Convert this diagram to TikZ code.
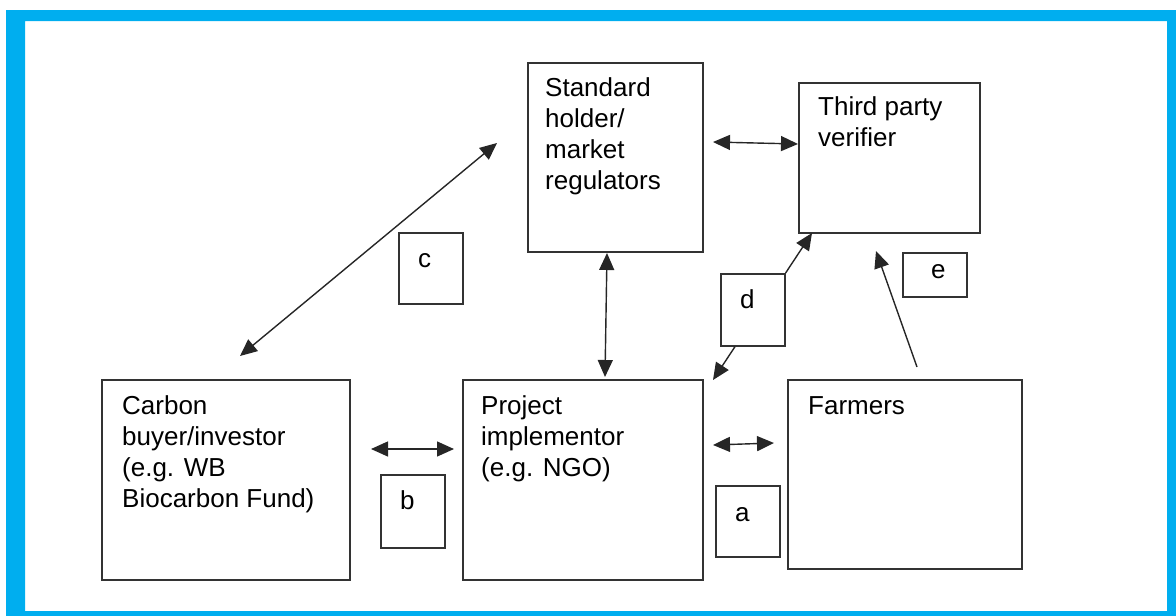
\documentclass[tikz,border=0pt]{standalone}
\usepackage{fontspec}
\setmainfont{Liberation Sans}
\usetikzlibrary{arrows.meta}

\definecolor{framecyan}{RGB}{0,174,239}

\begin{document}
\begin{tikzpicture}[x=1pt, y=-1pt,
    box/.style={draw=black!80, line width=1.6pt, inner sep=0pt, anchor=north west},
    lbl/.style={align=left, inner sep=0pt, anchor=base west, font=\fontsize{26}{31}\selectfont},
    link/.style={line width=1.4pt, black!85, {Triangle[length=17pt,width=15pt]}-{Triangle[length=17pt,width=15pt]}},
    onelink/.style={line width=1.4pt, black!85, -{Triangle[length=17pt,width=15pt]}}]
    \useasboundingbox (0,0) rectangle (1176,616);
    % blue frame
    \fill[framecyan, even odd rule] (6,10) rectangle (1176,616) (25,21) rectangle (1167,611);
    % main boxes
    \node[box, minimum width=175pt, minimum height=189pt] (std) at (527,62) {};
    \node[box, minimum width=181pt, minimum height=150pt] (tpv) at (798,82) {};
    \node[box, minimum width=248pt, minimum height=200pt] (buyer) at (101,379) {};
    \node[box, minimum width=240pt, minimum height=200pt] (impl) at (462,379) {};
    \node[box, minimum width=234pt, minimum height=189pt] (farm) at (787,379) {};
    % small letter boxes
    \node[box, minimum width=64pt, minimum height=71pt] (boxc) at (398,232) {};
    \node[box, minimum width=64pt, minimum height=44pt] (boxe) at (902,252) {};
    \node[box, minimum width=64pt, minimum height=72pt] (boxd) at (720,273) {};
    \node[box, minimum width=64pt, minimum height=73pt] (boxb) at (380,474) {};
    \node[box, minimum width=64pt, minimum height=71pt] (boxa) at (715,485) {};
    % texts (base = last line)
    \node[lbl] at ([shift={(18,127)}]std.north west) {Standard\\holder/\\market\\regulators};
    \node[lbl] at ([shift={(20,64)}]tpv.north west) {Third party\\verifier};
    \node[lbl] at ([shift={(21,128)}]buyer.north west) {Carbon\\buyer/investor\\(e.g. WB\\Biocarbon Fund)};
    \node[lbl] at ([shift={(19,97)}]impl.north west) {Project\\implementor\\(e.g. NGO)};
    \node[lbl] at ([shift={(21,35)}]farm.north west) {Farmers};
    \node[lbl] at ([shift={(20,35)}]boxc.north west) {c};
    \node[lbl] at ([shift={(29,26)}]boxe.north west) {e};
    \node[lbl] at ([shift={(20,35)}]boxd.north west) {d};
    \node[lbl] at ([shift={(20,35)}]boxb.north west) {b};
    \node[lbl] at ([shift={(20,36)}]boxa.north west) {a};
    % arrow ends
    \coordinate (c1) at (240,356); \coordinate (c2) at (497,143);
    \coordinate (s1) at (713,142); \coordinate (s2) at (798,144);
    \coordinate (v1) at (607,253); \coordinate (v2) at (605,377);
    \coordinate (b1) at (371,449); \coordinate (b2) at (454,449);
    \coordinate (a1) at (713,445); \coordinate (a2) at (774,443);
    \coordinate (d1) at (812,233); \coordinate (d2) at (713,380);
    \coordinate (e1) at (917,367); \coordinate (e2) at (876,251);
    % connectors
    \draw[link] (c1) -- (c2);
    \draw[link] (s1) -- (s2);
    \draw[link] (v1) -- (v2);
    \draw[link] (b1) -- (b2);
    \draw[link] (a1) -- (a2);
    \draw[onelink] (boxd.north east) -- (d1);
    \draw[onelink] ([xshift=15pt]boxd.south west) -- (d2);
    \draw[onelink] (e1) -- (e2);
\end{tikzpicture}
\end{document}
